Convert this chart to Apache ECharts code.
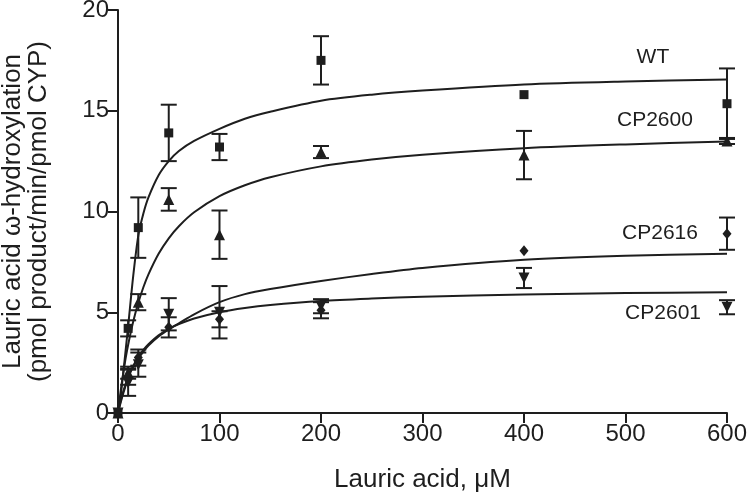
<!DOCTYPE html>
<html>
<head>
<meta charset="utf-8">
<script src="https://cdn.jsdelivr.net/npm/echarts@6/dist/echarts.min.js"></script>
<style>
  html, body { margin: 0; padding: 0; background: #fff; }
  #chart { width: 749px; height: 502px; }
</style>
</head>
<body>
<div id="chart"></div>
<script>
  // measured points (lauric acid, uM)
  const xs = [0, 10, 20, 50, 100, 200, 400, 600]
  const wtMean = [0, 4.2, 9.2, 13.9, 13.2, 17.5, 15.8, 15.35]
  const wtErr = [0, 0.4, 1.5, 1.4, 0.65, 1.2, 0, 1.75]
  const cp2600Mean = [0, 2.0, 5.5, 10.6, 8.85, 12.95, 12.8, 13.5]
  const cp2600Err = [0, 0.3, 0.4, 0.56, 1.2, 0.3, 1.2, 0.15]
  const cp2616Mean = [0, 1.8, 2.75, 4.25, 4.65, 5.1, 8.05, 8.9]
  const cp2616Err = [0, 0.4, 0.4, 0.5, 0.4, 0.4, 0, 0.8]
  const cp2601Mean = [0, 1.5, 2.4, 4.9, 5.0, 5.3, 6.7, 5.25]
  const cp2601Err = [0, 0.65, 0.6, 0.8, 1.3, 0.35, 0.5, 0.35]

  // fitted curves
  const curveX = [0, 2.5, 5, 7.5, 10, 15, 20, 25, 30, 40, 50, 60, 75, 100, 125, 150, 200, 250, 300, 400, 500, 600]
  const wtCurve = [0, 0.8, 1.9, 3.1, 4.3, 6.8, 8.8, 9.9, 10.7, 11.8, 12.5, 13.0, 13.5, 14.1, 14.6, 14.95, 15.5, 15.8, 16.0, 16.3, 16.45, 16.55]
  const cp2600Curve = [0, 1.03, 1.93, 2.71, 3.39, 4.54, 5.47, 6.24, 6.88, 7.9, 8.67, 9.27, 9.96, 10.76, 11.3, 11.7, 12.24, 12.58, 12.82, 13.14, 13.33, 13.47]
  const cp2616Curve = [0, 0.5, 0.95, 1.35, 1.75, 2.3, 2.7, 3.05, 3.35, 3.8, 4.15, 4.45, 4.9, 5.5, 5.9, 6.15, 6.55, 6.9, 7.2, 7.6, 7.8, 7.9]
  const cp2601Curve = [0, 0.57, 1.04, 1.44, 1.79, 2.34, 2.78, 3.13, 3.41, 3.85, 4.17, 4.41, 4.69, 5.0, 5.21, 5.36, 5.56, 5.68, 5.77, 5.88, 5.95, 5.99]

  // curve labels
  const labelNames = ['WT', 'CP2600', 'CP2616', 'CP2601']
  const labelX = [527, 529, 534, 537]
  const labelY = [17.67, 14.54, 8.93, 4.96]

  const ink = '#1e1e1e'
  const font = 'Liberation Sans, Arial, sans-serif'

  function pairs(xv, yv) {
    return xv.map((x, i) => [x, yv[i]])
  }

  function curve(values) {
    return {
      type: 'line',
      data: pairs(curveX, values),
      symbol: 'none',
      smooth: 0.3,
      lineStyle: { color: ink, width: 2 },
      silent: true,
      z: 2,
    }
  }

  function errorBars(mean, err) {
    return {
      type: 'custom',
      data: xs.map((x, i) => [x, mean[i], err[i]]),
      renderItem(params, api) {
        const e = api.value(2)
        if (!e) {
          return null
        }
        const x = api.value(0)
        const y = api.value(1)
        const hi = api.coord([x, y + e])
        const lo = api.coord([x, y - e])
        const w = 8
        const style = { stroke: ink, lineWidth: 2 }
        return {
          type: 'group',
          children: [
            { type: 'line', shape: { x1: hi[0], y1: hi[1], x2: lo[0], y2: lo[1] }, style },
            { type: 'line', shape: { x1: hi[0] - w, y1: hi[1], x2: hi[0] + w, y2: hi[1] }, style },
            { type: 'line', shape: { x1: lo[0] - w, y1: lo[1], x2: lo[0] + w, y2: lo[1] }, style },
          ],
        }
      },
      silent: true,
      z: 3,
    }
  }

  function markers(mean, symbol, size, rotate) {
    return {
      type: 'scatter',
      data: pairs(xs, mean),
      symbol: symbol,
      symbolSize: size,
      symbolRotate: rotate || 0,
      itemStyle: { color: ink, opacity: 1 },
      silent: true,
      z: 4,
    }
  }

  const chart = echarts.init(document.getElementById('chart'))
  chart.setOption({
    animation: false,
    textStyle: { fontFamily: font, color: ink },
    grid: { left: 118, right: 22, top: 10, bottom: 89, containLabel: false, outerBoundsMode: 'none' },
    xAxis: {
      type: 'value',
      min: 0,
      max: 600,
      interval: 100,
      name: 'Lauric acid, μM',
      nameLocation: 'middle',
      nameGap: 54,
      nameTextStyle: { fontSize: 26, color: ink, fontFamily: font },
      axisLine: { lineStyle: { color: ink, width: 2 } },
      axisTick: { length: 10, lineStyle: { color: ink, width: 2 } },
      axisLabel: { fontSize: 24, color: ink, margin: 9, fontFamily: font },
      splitLine: { show: false },
    },
    yAxis: {
      type: 'value',
      min: 0,
      max: 20,
      interval: 5,
      name: 'Lauric acid ω-hydroxylation\n(pmol product/min/pmol CYP)',
      nameLocation: 'middle',
      nameRotate: 90,
      nameGap: 66,
      nameTextStyle: { fontSize: 26, lineHeight: 26, color: ink, fontFamily: font },
      axisLine: { show: true, lineStyle: { color: ink, width: 2 } },
      axisTick: { show: true, length: 10, lineStyle: { color: ink, width: 2 } },
      axisLabel: { fontSize: 24, color: ink, margin: 9, fontFamily: font },
      splitLine: { show: false },
    },
    series: [
      curve(wtCurve),
      curve(cp2600Curve),
      curve(cp2616Curve),
      curve(cp2601Curve),
      errorBars(wtMean, wtErr),
      errorBars(cp2600Mean, cp2600Err),
      errorBars(cp2616Mean, cp2616Err),
      errorBars(cp2601Mean, cp2601Err),
      markers(wtMean, 'rect', 9),
      markers(cp2600Mean, 'triangle', 11),
      markers(cp2616Mean, 'diamond', [9, 11]),
      markers(cp2601Mean, 'triangle', 11, 180),
      {
        type: 'scatter',
        data: labelNames.map((n, i) => [labelX[i], labelY[i], n]),
        symbolSize: 0,
        silent: true,
        itemStyle: { opacity: 1 },
        label: {
          show: true,
          position: 'inside',
          formatter: (p) => p.value[2],
          fontSize: 21,
          color: ink,
          fontFamily: font,
        },
        z: 5,
      },
    ],
  })
</script>
</body>
</html>
